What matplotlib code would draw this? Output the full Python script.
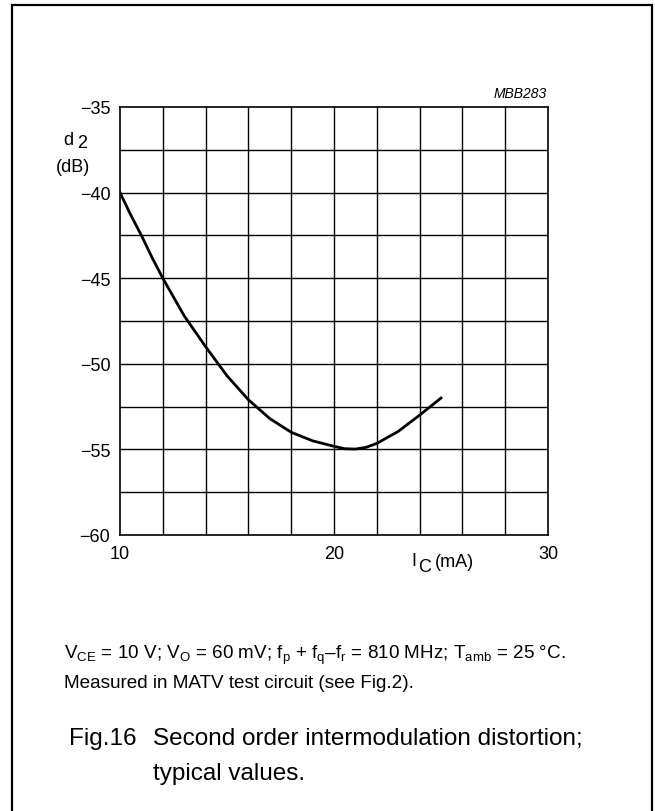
import matplotlib
matplotlib.use("Agg")
import matplotlib.pyplot as plt
from matplotlib.patches import Rectangle

plt.rcParams['font.family'] = ['Liberation Sans', 'DejaVu Sans']
plt.rcParams['mathtext.fontset'] = 'custom'
plt.rcParams['mathtext.rm'] = 'Liberation Sans'

# collector current (mA) and second order distortion d2 (dB)
ic_ma = [10, 10.5, 11, 11.5, 12, 12.5, 13, 13.5, 14, 15, 16, 17, 18, 19,
         20, 20.5, 21, 21.5, 22, 23, 24, 24.5, 25]
d2_db = [-40.0, -41.3, -42.5, -43.8, -45.0, -46.1, -47.2, -48.1, -49.0,
         -50.7, -52.1, -53.2, -54.0, -54.5, -54.82, -54.96, -54.98, -54.88,
         -54.65, -53.95, -53.0, -52.5, -52.0]

x_ticks = [10, 20, 30]
x_labels = ['10', '20', '30']
y_ticks = [-60, -55, -50, -45, -40, -35]
y_labels = ['\u221260', '\u221255', '\u221250', '\u221245', '\u221240', '\u221235']

W, H = 655, 812
fig = plt.figure(figsize=(W / 100, H / 100), dpi=100)


def fx(px):
    return px / W


def fy(py):
    return 1 - py / H


# outer frame
fig.add_artist(Rectangle((fx(12), fy(830)), fx(652) - fx(12), fy(5.5) - fy(830),
                         transform=fig.transFigure, fill=False,
                         edgecolor='black', linewidth=1.6))

ax = fig.add_axes([fx(120), fy(536), fx(548) - fx(120), fy(108) - fy(536)])
ax.set_xlim(10, 30)
ax.set_ylim(-60, -35)

# grid every 2 mA and 2.5 dB
for gx in range(12, 30, 2):
    ax.axvline(gx, color='black', linewidth=1.0)
for k in range(1, 10):
    ax.axhline(-60 + 2.5 * k, color='black', linewidth=1.0)
for s in ax.spines.values():
    s.set_linewidth(1.2)

ax.plot(ic_ma, d2_db, color='black', linewidth=2.0)

ax.set_xticks(x_ticks)
ax.set_xticklabels(x_labels, fontsize=13)
ax.set_yticks(y_ticks)
ax.set_yticklabels(y_labels, fontsize=13)
ax.tick_params(length=0, pad=7)
ax.tick_params(axis='x', pad=7)

# axis labels
fig.text(fx(63), fy(145), 'd', fontsize=13, ha='left', va='baseline')
fig.text(fx(77), fy(148), '2', fontsize=13, ha='left', va='baseline')
fig.text(fx(56), fy(172), '(dB)', fontsize=13, ha='left', va='baseline')
fig.text(fx(411), fy(566), 'I', fontsize=13, ha='left', va='baseline')
fig.text(fx(418), fy(572), 'C', fontsize=13, ha='left', va='baseline')
fig.text(fx(435), fy(567), '(mA)', fontsize=13, ha='left', va='baseline')

fig.text(fx(547), fy(98), 'MBB283', fontsize=10, style='italic',
         ha='right', va='baseline')

fig.text(fx(64), fy(659),
         r'V$_{\mathrm{CE}}$ = 10 V; V$_{\mathrm{O}}$ = 60 mV; '
         r'f$_{\mathrm{p}}$ + f$_{\mathrm{q}}$–f$_{\mathrm{r}}$ = 810 MHz; '
         r'T$_{\mathrm{amb}}$ = 25 °C.',
         fontsize=13.6, ha='left', va='baseline')
fig.text(fx(64), fy(688), 'Measured in MATV test circuit (see Fig.2).',
         fontsize=13.6, ha='left', va='baseline')

fig.text(fx(69), fy(745), 'Fig.16', fontsize=17.5, ha='left', va='baseline')
fig.text(fx(153), fy(745), 'Second order intermodulation distortion;',
         fontsize=17.5, ha='left', va='baseline')
fig.text(fx(153), fy(780), 'typical values.', fontsize=17.5,
         ha='left', va='baseline')

fig.savefig('out.png', dpi=100)
